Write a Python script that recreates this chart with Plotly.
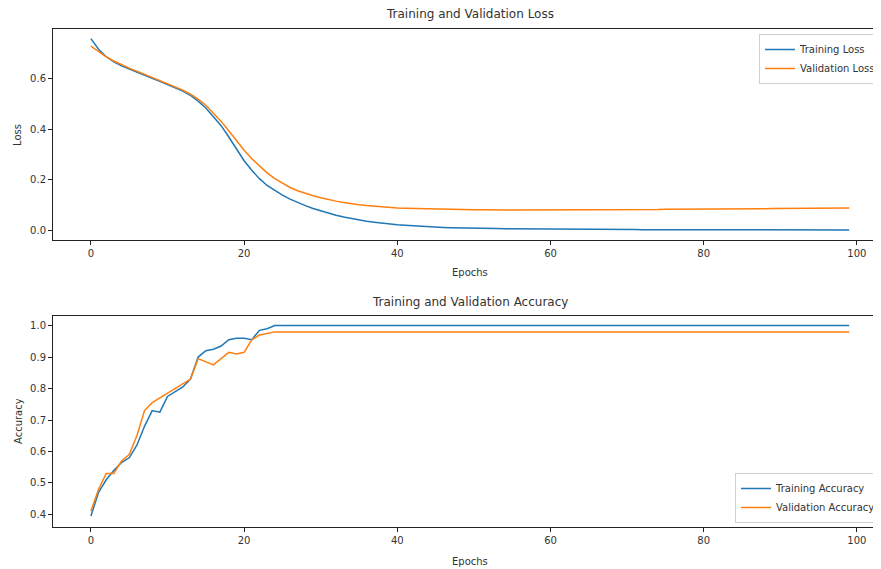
import plotly.graph_objects as go

# ---------------- data ----------------
epochs = list(range(100))

train_loss = [
    0.760, 0.718, 0.688, 0.668, 0.652, 0.639, 0.627, 0.615, 0.603, 0.591,
    0.579, 0.566, 0.552, 0.535, 0.512, 0.485, 0.452, 0.415, 0.370, 0.322,
    0.276, 0.238, 0.205, 0.178, 0.158, 0.140, 0.124, 0.110, 0.098, 0.087,
    0.077, 0.068, 0.060, 0.053, 0.047, 0.041, 0.036, 0.032, 0.028, 0.025,
    0.022, 0.020, 0.018, 0.016, 0.015, 0.013, 0.012, 0.011, 0.010, 0.0095,
    0.0090, 0.0085, 0.0080, 0.0075, 0.0070, 0.0066, 0.0062, 0.0058, 0.0055, 0.0052,
    0.0050, 0.0048, 0.0046, 0.0044, 0.0042, 0.0040, 0.0038, 0.0037, 0.0035, 0.0034,
    0.0033, 0.0032, 0.0031, 0.0030, 0.0029, 0.0028, 0.0027, 0.0026, 0.0025, 0.0025,
    0.0024, 0.0023, 0.0023, 0.0022, 0.0021, 0.0021, 0.0020, 0.0020, 0.0019, 0.0019,
    0.0018, 0.0018, 0.0017, 0.0017, 0.0016, 0.0016, 0.0016, 0.0015, 0.0015, 0.0015,
]

val_loss = [
    0.730, 0.708, 0.688, 0.671, 0.656, 0.643, 0.631, 0.619, 0.607, 0.595,
    0.583, 0.570, 0.556, 0.540, 0.520, 0.496, 0.466, 0.432, 0.395, 0.355,
    0.318, 0.284, 0.254, 0.228, 0.205, 0.186, 0.170, 0.157, 0.146, 0.137,
    0.129, 0.122, 0.116, 0.111, 0.106, 0.102, 0.099, 0.096, 0.093, 0.091,
    0.089, 0.088, 0.087, 0.086, 0.085, 0.084, 0.084, 0.083, 0.083, 0.082,
    0.082, 0.082, 0.081, 0.081, 0.081, 0.081, 0.081, 0.081, 0.081, 0.081,
    0.081, 0.081, 0.081, 0.081, 0.082, 0.082, 0.082, 0.082, 0.082, 0.082,
    0.083, 0.083, 0.083, 0.083, 0.083, 0.084, 0.084, 0.084, 0.084, 0.084,
    0.085, 0.085, 0.085, 0.085, 0.086, 0.086, 0.086, 0.086, 0.086, 0.087,
    0.087, 0.087, 0.087, 0.087, 0.088, 0.088, 0.088, 0.088, 0.088, 0.089,
]

train_acc = [
    0.395, 0.47, 0.51, 0.54, 0.565, 0.58, 0.62, 0.68, 0.73, 0.725,
    0.775, 0.79, 0.805, 0.83, 0.90, 0.92, 0.925, 0.935, 0.955, 0.96,
    0.96, 0.955, 0.985, 0.99, 1.0, 1.0, 1.0, 1.0, 1.0, 1.0,
    1.0, 1.0, 1.0, 1.0, 1.0, 1.0, 1.0, 1.0, 1.0, 1.0,
    1.0, 1.0, 1.0, 1.0, 1.0, 1.0, 1.0, 1.0, 1.0, 1.0,
    1.0, 1.0, 1.0, 1.0, 1.0, 1.0, 1.0, 1.0, 1.0, 1.0,
    1.0, 1.0, 1.0, 1.0, 1.0, 1.0, 1.0, 1.0, 1.0, 1.0,
    1.0, 1.0, 1.0, 1.0, 1.0, 1.0, 1.0, 1.0, 1.0, 1.0,
    1.0, 1.0, 1.0, 1.0, 1.0, 1.0, 1.0, 1.0, 1.0, 1.0,
    1.0, 1.0, 1.0, 1.0, 1.0, 1.0, 1.0, 1.0, 1.0, 1.0,
]

val_acc = [
    0.41, 0.48, 0.53, 0.53, 0.57, 0.59, 0.65, 0.73, 0.755, 0.77,
    0.785, 0.80, 0.815, 0.83, 0.895, 0.885, 0.875, 0.895, 0.915, 0.91,
    0.915, 0.955, 0.97, 0.975, 0.98, 0.98, 0.98, 0.98, 0.98, 0.98,
    0.98, 0.98, 0.98, 0.98, 0.98, 0.98, 0.98, 0.98, 0.98, 0.98,
    0.98, 0.98, 0.98, 0.98, 0.98, 0.98, 0.98, 0.98, 0.98, 0.98,
    0.98, 0.98, 0.98, 0.98, 0.98, 0.98, 0.98, 0.98, 0.98, 0.98,
    0.98, 0.98, 0.98, 0.98, 0.98, 0.98, 0.98, 0.98, 0.98, 0.98,
    0.98, 0.98, 0.98, 0.98, 0.98, 0.98, 0.98, 0.98, 0.98, 0.98,
    0.98, 0.98, 0.98, 0.98, 0.98, 0.98, 0.98, 0.98, 0.98, 0.98,
    0.98, 0.98, 0.98, 0.98, 0.98, 0.98, 0.98, 0.98, 0.98, 0.98,
]

epoch_ticks = [0, 20, 40, 60, 80, 100]
loss_ticks = [0.0, 0.2, 0.4, 0.6]
acc_ticks = [0.4, 0.5, 0.6, 0.7, 0.8, 0.9, 1.0]

# ---------------- styling / layout ----------------
# The page body has an 8 px margin, so the figure is drawn 8 px in and
# 8 px smaller, so that it fills the 881x569 window exactly.
OFF = 8
W, H = 881 - OFF, 569 - OFF
BLUE = "#1f77b4"
ORANGE = "#ff7f0e"
FONT = "DejaVu Sans"
TXT = "#333333"


def px(x):
    """window pixel x -> paper fraction"""
    return (x - OFF) / W


def py(y):
    """window pixel y -> paper fraction"""
    return 1 - (y - OFF) / H


fig = go.Figure()
fig.add_trace(go.Scatter(x=epochs, y=train_loss, name="Training Loss", mode="lines",
                         line=dict(color=BLUE, width=1.5), xaxis="x", yaxis="y", legend="legend"))
fig.add_trace(go.Scatter(x=epochs, y=val_loss, name="Validation Loss", mode="lines",
                         line=dict(color=ORANGE, width=1.5), xaxis="x", yaxis="y", legend="legend"))
fig.add_trace(go.Scatter(x=epochs, y=train_acc, name="Training Accuracy", mode="lines",
                         line=dict(color=BLUE, width=1.5), xaxis="x2", yaxis="y2", legend="legend2"))
fig.add_trace(go.Scatter(x=epochs, y=val_acc, name="Validation Accuracy", mode="lines",
                         line=dict(color=ORANGE, width=1.5), xaxis="x2", yaxis="y2", legend="legend2"))

axis_common = dict(showline=True, linecolor="#222222", linewidth=1, ticks="outside", ticklen=4,
                   tickwidth=1, tickcolor="#222222", showgrid=False, zeroline=False,
                   tickfont=dict(family=FONT, size=10, color=TXT))

x_range = [-4.95, 103.15]

legend_common = dict(xanchor="right", yanchor="top", bgcolor="rgba(255,255,255,0.85)",
                     bordercolor="#d0d0d0", borderwidth=1, itemwidth=30,
                     font=dict(family=FONT, size=10, color=TXT), tracegroupgap=0)

fig.update_layout(
    width=W, height=H, margin=dict(l=0, r=0, t=0, b=0),
    paper_bgcolor="white", plot_bgcolor="white",
    font=dict(family=FONT, size=10, color=TXT),
    showlegend=True,
    xaxis=dict(domain=[px(53), 1], range=x_range, tickvals=epoch_ticks, anchor="y",
               mirror=True, **axis_common),
    yaxis=dict(domain=[py(240), py(29)], range=[-0.038, 0.798], tickvals=loss_ticks,
               tickformat=".1f", anchor="x", **axis_common),
    xaxis2=dict(domain=[px(53), 1], range=x_range, tickvals=epoch_ticks, anchor="y2",
                mirror=True, **axis_common),
    yaxis2=dict(domain=[py(527), py(316)], range=[0.36, 1.0305], tickvals=acc_ticks,
                tickformat=".1f", anchor="x2", **axis_common),
    legend=dict(x=1.0, y=py(34), **legend_common),
    legend2=dict(x=1.0, y=py(473), **legend_common),
    annotations=[
        dict(text="Training and Validation Loss", x=px(470), y=py(14), xref="paper", yref="paper",
             showarrow=False, xanchor="center", yanchor="middle", font=dict(family=FONT, size=12, color=TXT)),
        dict(text="Epochs", x=px(470), y=py(272), xref="paper", yref="paper",
             showarrow=False, xanchor="center", yanchor="middle", font=dict(family=FONT, size=10, color=TXT)),
        dict(text="Loss", x=px(18), y=py(135), xref="paper", yref="paper", textangle=-90,
             showarrow=False, xanchor="center", yanchor="middle", font=dict(family=FONT, size=10, color=TXT)),
        dict(text="Training and Validation Accuracy", x=px(470), y=py(302), xref="paper", yref="paper",
             showarrow=False, xanchor="center", yanchor="middle", font=dict(family=FONT, size=12, color=TXT)),
        dict(text="Epochs", x=px(470), y=py(561), xref="paper", yref="paper",
             showarrow=False, xanchor="center", yanchor="middle", font=dict(family=FONT, size=10, color=TXT)),
        dict(text="Accuracy", x=px(18), y=py(421), xref="paper", yref="paper", textangle=-90,
             showarrow=False, xanchor="center", yanchor="middle", font=dict(family=FONT, size=10, color=TXT)),
    ],
)

fig.write_html("out.html")
